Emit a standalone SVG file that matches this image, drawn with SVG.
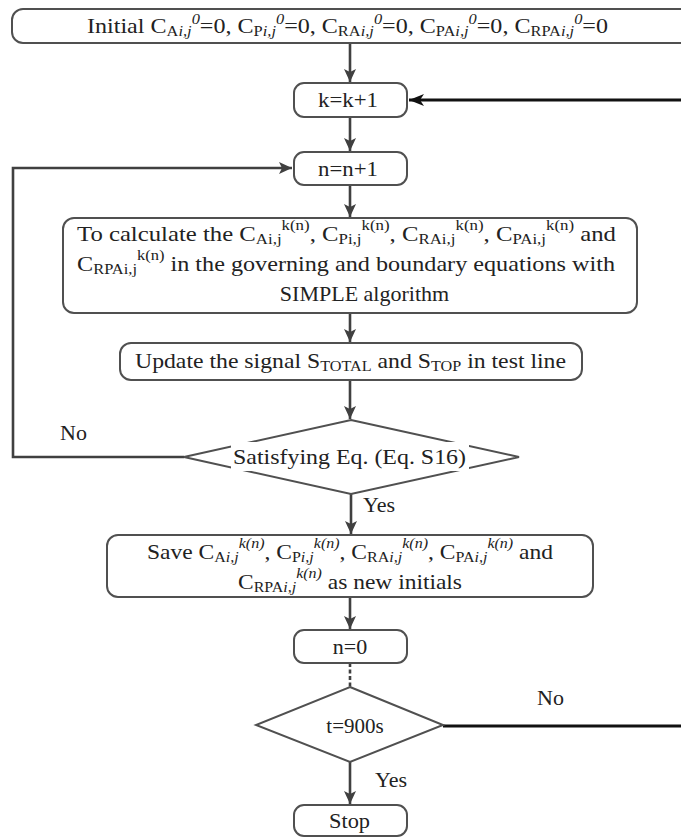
<svg xmlns="http://www.w3.org/2000/svg" width="681" height="837" viewBox="0 0 681 837">
<style>
.box{fill:#fff;stroke:#505050;stroke-width:2}
.t{font-family:"Liberation Serif","Times New Roman",serif;font-size:22px;fill:#222}
.m{font-size:21px}
.s{font-size:15px}
.p{font-size:15px}
.i{font-style:italic}
.c{fill:none;stroke:#404040;stroke-width:2.6}
.r{fill:none;stroke:#111;stroke-width:3}
</style>
<defs>
<marker id="ah" markerWidth="14" markerHeight="12" refX="13" refY="6" orient="auto" markerUnits="userSpaceOnUse"><path d="M0,0 L13,6 L0,12 L3,6 Z" fill="#404040"/></marker>
<marker id="ahk" markerWidth="16" markerHeight="12" refX="15" refY="6" orient="auto" markerUnits="userSpaceOnUse"><path d="M0,0 L15,6 L0,12 L4,6 Z" fill="#111"/></marker>
</defs>
<g id="connectors">
<path class="c" d="M350,43 V82" marker-end="url(#ah)"/>
<path class="c" d="M350,117 V151" marker-end="url(#ah)"/>
<path class="c" d="M350,185 V217" marker-end="url(#ah)"/>
<path class="c" d="M350,313 V342" marker-end="url(#ah)"/>
<path class="c" d="M350,380 V419" marker-end="url(#ah)"/>
<path class="c" d="M351,494 V534" marker-end="url(#ah)"/>
<path class="c" d="M350,597 V629" marker-end="url(#ah)"/>
<path class="c" d="M350,663 V687" stroke-dasharray="4,2.5"/>
<path class="c" d="M350,762 V804" marker-end="url(#ah)"/>
<path class="c" d="M184,457 H13 V168 H292" marker-end="url(#ah)"/>
<path class="r" d="M443,726 H681"/>
<path class="r" d="M681,100 H409" marker-end="url(#ahk)"/>
</g>
<g id="init">
<rect class="box" x="12" y="9" width="700" height="34" rx="11"/>
<text class="t" x="87" y="33" textLength="521" lengthAdjust="spacingAndGlyphs">Initial C<tspan class="s" dy="3">A</tspan><tspan class="s i">i,j</tspan><tspan class="p i" dy="-12">0</tspan><tspan dy="9">=0, C</tspan><tspan class="s" dy="3">P</tspan><tspan class="s i">i,j</tspan><tspan class="p i" dy="-12">0</tspan><tspan dy="9">=0,  C</tspan><tspan class="s" dy="3">RA</tspan><tspan class="s i">i,j</tspan><tspan class="p i" dy="-12">0</tspan><tspan dy="9">=0,  C</tspan><tspan class="s" dy="3">PA</tspan><tspan class="s i">i,j</tspan><tspan class="p i" dy="-12">0</tspan><tspan dy="9">=0,  C</tspan><tspan class="s" dy="3">RPA</tspan><tspan class="s i">i,j</tspan><tspan class="p i" dy="-12">0</tspan><tspan dy="9">=0</tspan></text>
</g>
<g id="kstep">
<rect class="box" x="294" y="83" width="113" height="34" rx="10"/>
<text class="t" x="318" y="107" textLength="60" lengthAdjust="spacingAndGlyphs">k=k+1</text>
</g>
<g id="nstep">
<rect class="box" x="294" y="152" width="113" height="33" rx="10"/>
<text class="t" x="318" y="176" textLength="60" lengthAdjust="spacingAndGlyphs">n=n+1</text>
</g>
<g id="calc">
<rect class="box" x="63" y="218" width="574" height="95" rx="11"/>
<text class="t" x="77" y="241" textLength="539" lengthAdjust="spacingAndGlyphs">To calculate the  C<tspan class="s" dy="3">Ai,j</tspan><tspan class="p" dy="-14">k(n)</tspan><tspan dy="11">,   C</tspan><tspan class="s" dy="3">Pi,j</tspan><tspan class="p" dy="-14">k(n)</tspan><tspan dy="11">, C</tspan><tspan class="s" dy="3">RAi,j</tspan><tspan class="p" dy="-14">k(n)</tspan><tspan dy="11">, C</tspan><tspan class="s" dy="3">PAi,j</tspan><tspan class="p" dy="-14">k(n)</tspan><tspan dy="11"> and</tspan></text>
<text class="t" x="77" y="271" textLength="538" lengthAdjust="spacingAndGlyphs">C<tspan class="s" dy="3">RPAi,j</tspan><tspan class="p" dy="-14">k(n)</tspan><tspan dy="11"> in the governing and boundary equations with</tspan></text>
<text class="t" x="364.5" y="301" text-anchor="middle">SIMPLE algorithm</text>
</g>
<g id="update">
<rect class="box" x="120" y="343" width="462" height="37" rx="11"/>
<text class="t" x="135" y="368" textLength="431" lengthAdjust="spacingAndGlyphs">Update the signal S<tspan class="s" dy="3">TOTAL</tspan><tspan dy="-3"> and S</tspan><tspan class="s" dy="3">TOP</tspan><tspan dy="-3"> in test line</tspan></text>
</g>
<g id="check">
<polygon class="box" points="351,420 519,457 351,494 184,457"/>
<rect x="231" y="442" width="238" height="29" fill="#fff"/>
<text class="t" x="233" y="464" textLength="233" lengthAdjust="spacingAndGlyphs">Satisfying Eq. (Eq. S16)</text>
</g>
<g id="save">
<rect class="box" x="107" y="535" width="486" height="62" rx="11"/>
<text class="t" x="147" y="559" textLength="406" lengthAdjust="spacingAndGlyphs">Save C<tspan class="s" dy="3">A</tspan><tspan class="s i">i,j</tspan><tspan class="p i" dy="-14">k(n)</tspan><tspan dy="11">,  C</tspan><tspan class="s" dy="3">P</tspan><tspan class="s i">i,j</tspan><tspan class="p i" dy="-14">k(n)</tspan><tspan dy="11">, C</tspan><tspan class="s" dy="3">RA</tspan><tspan class="s i">i,j</tspan><tspan class="p i" dy="-14">k(n)</tspan><tspan dy="11">, C</tspan><tspan class="s" dy="3">PA</tspan><tspan class="s i">i,j</tspan><tspan class="p i" dy="-14">k(n)</tspan><tspan dy="11"> and</tspan></text>
<text class="t" x="238" y="589" textLength="224" lengthAdjust="spacingAndGlyphs">C<tspan class="s" dy="3">RPA</tspan><tspan class="s i">i,j</tspan><tspan class="p i" dy="-14">k(n)</tspan><tspan dy="11"> as new initials</tspan></text>
</g>
<g id="nzero">
<rect class="box" x="294" y="630" width="113" height="33" rx="10"/>
<text class="t" x="350" y="654" text-anchor="middle">n=0</text>
</g>
<g id="tcheck">
<polygon class="box" points="350,687 443,725 350,762 256,725"/>
<text class="t m" x="355" y="733" text-anchor="middle">t=900s</text>
</g>
<g id="stop">
<rect class="box" x="294" y="805" width="113" height="31" rx="10"/>
<text class="t" x="329" y="828" textLength="41" lengthAdjust="spacingAndGlyphs">Stop</text>
</g>
<g id="labels">
<text class="t" x="60" y="440">No</text>
<text class="t" x="363" y="512">Yes</text>
<text class="t" x="537" y="705">No</text>
<text class="t" x="375" y="787">Yes</text>
</g>
</svg>
